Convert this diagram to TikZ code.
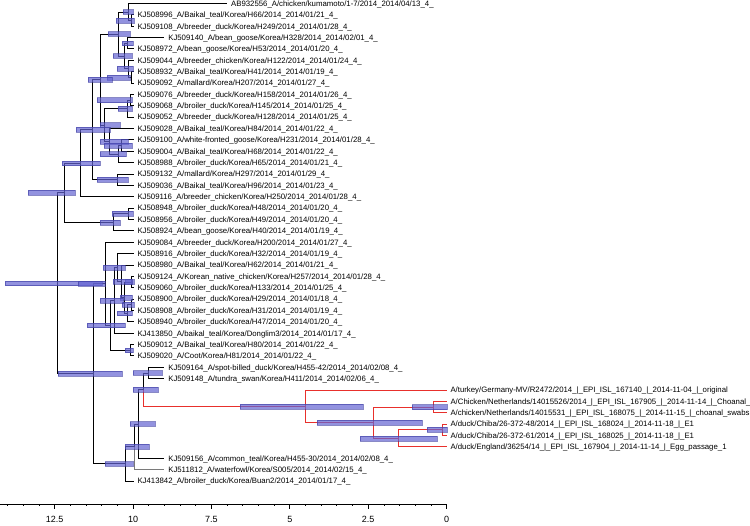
\documentclass[tikz,border=0pt]{standalone}
\usepackage{fontspec}
\setmainfont{Liberation Sans}
\usetikzlibrary{calc}
\definecolor{cbar}{HTML}{6464D2}
\definecolor{cbarline}{HTML}{3A3AA0}
\definecolor{cred}{HTML}{E8302C}
\definecolor{cgrey}{HTML}{7A7A7A}
\tikzset{
  every picture/.style={font=\fontsize{7.8}{9}\selectfont, line width=1pt},
  leaf/.style={anchor=base west, inner sep=0pt, xshift=3.4pt, yshift=-2.8pt},
  branch/.style={draw=black, line width=1pt},
  redbranch/.style={draw=cred, line width=1pt},
  greybranch/.style={draw=cgrey, line width=1pt},
  hpd/.style={fill=cbar, fill opacity=0.7, draw=cbarline, draw opacity=0.6, line width=0.5pt},
  axis/.style={draw=black, line width=0.8pt},
  axislabel/.style={font=\fontsize{9}{10}\selectfont, anchor=base, inner sep=0pt},
}
% tip: name, x of tip, row, label
\newcommand{\leaf}[4]{%
  \coordinate (#1) at (#2,{-(3.5+(#3-1)*11.37)});
  \node[leaf] (#1txt) at (#1) {\detokenize{#4}};}
% inner node: [style] name, x, upper child, lower child
\newcommand{\clade}[5][branch]{%
  \path let \p1=(#4), \p2=(#5) in coordinate (#2) at (#3pt,{(\y1+\y2)/2});
  \draw[#1] (#2) |- (#4) (#2) |- (#5);}
% node height bar: node, left x, right x
\newcommand{\hpdbar}[3]{%
  \path[hpd] let \p1=(#1) in (#2pt,\y1-2.4pt) rectangle (#3pt,\y1+2.4pt);}

\begin{document}
\begin{tikzpicture}[x=1pt, y=1pt]
  \clip (0,0) rectangle (750,-526);
  % tips
  \leaf{t1}{227.2}{1}{AB932556_A/chicken/kumamoto/1-7/2014_2014/04/13_4_}
  \leaf{t2}{133.6}{2}{KJ508996_A/Baikal_teal/Korea/H66/2014_2014/01/21_4_}
  \leaf{t3}{133.6}{3}{KJ509108_A/breeder_duck/Korea/H249/2014_2014/01/28_4_}
  \leaf{t4}{164.4}{4}{KJ509140_A/bean_goose/Korea/H328/2014_2014/02/01_4_}
  \leaf{t5}{133.6}{5}{KJ508972_A/bean_goose/Korea/H53/2014_2014/01/20_4_}
  \leaf{t6}{133.6}{6}{KJ509044_A/breeder_chicken/Korea/H122/2014_2014/01/24_4_}
  \leaf{t7}{133.6}{7}{KJ508932_A/Baikal_teal/Korea/H41/2014_2014/01/19_4_}
  \leaf{t8}{133.6}{8}{KJ509092_A/mallard/Korea/H207/2014_2014/01/27_4_}
  \leaf{t9}{133.6}{9}{KJ509076_A/breeder_duck/Korea/H158/2014_2014/01/26_4_}
  \leaf{t10}{133.6}{10}{KJ509068_A/broiler_duck/Korea/H145/2014_2014/01/25_4_}
  \leaf{t11}{133.6}{11}{KJ509052_A/breeder_duck/Korea/H128/2014_2014/01/25_4_}
  \leaf{t12}{133.6}{12}{KJ509028_A/Baikal_teal/Korea/H84/2014_2014/01/22_4_}
  \leaf{t13}{133.6}{13}{KJ509100_A/white-fronted_goose/Korea/H231/2014_2014/01/28_4_}
  \leaf{t14}{133.6}{14}{KJ509004_A/Baikal_teal/Korea/H68/2014_2014/01/22_4_}
  \leaf{t15}{133.6}{15}{KJ508988_A/broiler_duck/Korea/H65/2014_2014/01/21_4_}
  \leaf{t16}{133.6}{16}{KJ509132_A/mallard/Korea/H297/2014_2014/01/29_4_}
  \leaf{t17}{133.6}{17}{KJ509036_A/Baikal_teal/Korea/H96/2014_2014/01/23_4_}
  \leaf{t18}{133.6}{18}{KJ509116_A/breeder_chicken/Korea/H250/2014_2014/01/28_4_}
  \leaf{t19}{133.6}{19}{KJ508948_A/broiler_duck/Korea/H48/2014_2014/01/20_4_}
  \leaf{t20}{133.6}{20}{KJ508956_A/broiler_duck/Korea/H49/2014_2014/01/20_4_}
  \leaf{t21}{133.6}{21}{KJ508924_A/bean_goose/Korea/H40/2014_2014/01/19_4_}
  \leaf{t22}{133.6}{22}{KJ509084_A/breeder_duck/Korea/H200/2014_2014/01/27_4_}
  \leaf{t23}{133.6}{23}{KJ508916_A/broiler_duck/Korea/H32/2014_2014/01/19_4_}
  \leaf{t24}{133.6}{24}{KJ508980_A/Baikal_teal/Korea/H62/2014_2014/01/21_4_}
  \leaf{t25}{133.6}{25}{KJ509124_A/Korean_native_chicken/Korea/H257/2014_2014/01/28_4_}
  \leaf{t26}{133.6}{26}{KJ509060_A/broiler_duck/Korea/H133/2014_2014/01/25_4_}
  \leaf{t27}{133.6}{27}{KJ508900_A/broiler_duck/Korea/H29/2014_2014/01/18_4_}
  \leaf{t28}{133.6}{28}{KJ508908_A/broiler_duck/Korea/H31/2014_2014/01/19_4_}
  \leaf{t29}{133.6}{29}{KJ508940_A/broiler_duck/Korea/H47/2014_2014/01/20_4_}
  \leaf{t30}{133.6}{30}{KJ413850_A/baikal_teal/Korea/Donglim3/2014_2014/01/17_4_}
  \leaf{t31}{133.6}{31}{KJ509012_A/Baikal_teal/Korea/H80/2014_2014/01/22_4_}
  \leaf{t32}{133.6}{32}{KJ509020_A/Coot/Korea/H81/2014_2014/01/22_4_}
  \leaf{t33}{164.4}{33}{KJ509164_A/spot-billed_duck/Korea/H455-42/2014_2014/02/08_4_}
  \leaf{t34}{164.4}{34}{KJ509148_A/tundra_swan/Korea/H411/2014_2014/02/06_4_}
  \leaf{t35}{446.6}{35}{A/turkey/Germany-MV/R2472/2014_|_EPI_ISL_167140_|_2014-11-04_|_original}
  \leaf{t36}{446.6}{36}{A/Chicken/Netherlands/14015526/2014_|_EPI_ISL_167905_|_2014-11-14_|_Choanal_S}
  \leaf{t37}{446.6}{37}{A/chicken/Netherlands/14015531_|_EPI_ISL_168075_|_2014-11-15_|_choanal_swabs}
  \leaf{t38}{446.6}{38}{A/duck/Chiba/26-372-48/2014_|_EPI_ISL_168024_|_2014-11-18_|_E1}
  \leaf{t39}{446.6}{39}{A/duck/Chiba/26-372-61/2014_|_EPI_ISL_168025_|_2014-11-18_|_E1}
  \leaf{t40}{446.6}{40}{A/duck/England/36254/14_|_EPI_ISL_167904_|_2014-11-14_|_Egg_passage_1}
  \leaf{t41}{164.4}{41}{KJ509156_A/common_teal/Korea/H455-30/2014_2014/02/08_4_}
  \leaf{t42}{164.4}{42}{KJ511812_A/waterfowl/Korea/S005/2014_2014/02/15_4_}
  \leaf{t43}{133.6}{43}{KJ413842_A/broiler_duck/Korea/Buan2/2014_2014/01/17_4_}
  % upper clade
  \clade{n23}{131}{t2}{t3}
  \clade{n123}{128}{t1}{n23}
  \clade{n45}{127}{t4}{t5}
  \clade{n78}{131}{t7}{t8}
  \clade{n678}{128}{t6}{n78}
  \clade{n48}{124}{n45}{n678}
  \clade{n18}{118}{n123}{n48}
  \clade{n910}{130}{t9}{t10}
  \clade{n911}{127}{n910}{t11}
  \clade{n1314}{121}{t13}{t14}
  \clade{n1315}{118}{n1314}{t15}
  \clade{n1215}{109}{t12}{n1315}
  \clade{n915}{104}{n911}{n1215}
  \clade{n115}{100}{n18}{n915}
  \clade{n1617}{117}{t16}{t17}
  \clade{n117}{92}{n115}{n1617}
  \clade{n118}{80}{n117}{t18}
  \clade{n1920}{128}{t19}{t20}
  \clade{n1921}{113}{n1920}{t21}
  \clade{top}{64}{n118}{n1921}
  % lower clade
  \clade{n2526}{131}{t25}{t26}
  \clade{n2728}{131}{t27}{t28}
  \clade{n2729}{127}{n2728}{t29}
  \clade{n2529}{124}{n2526}{n2729}
  \clade{n2429}{121}{t24}{n2529}
  \clade{n2329}{117}{t23}{n2429}
  \clade{n2330}{114}{n2329}{t30}
  \clade{n3132}{130}{t31}{t32}
  \clade{n2332}{110}{n2330}{n3132}
  \clade{n2232}{105}{t22}{n2332}
  \clade{n3334}{148}{t33}{t34}
  \clade[redbranch]{eu3839}{442}{t38}{t39}
  \clade[redbranch]{eu3840}{398}{eu3839}{t40}
  \clade[redbranch]{eu3637}{433}{t36}{t37}
  \clade[redbranch]{eu3640}{373}{eu3637}{eu3840}
  \clade[redbranch]{eu}{305}{t35}{eu3640}
  \clade{n3340}{143}{n3334}{eu}
  \draw[redbranch] (n3340) |- (eu);
  \clade{n3341}{138}{n3340}{t41}
  \clade{n3342}{134}{n3341}{t42}
  \draw[greybranch] (n3342) |- (t42);
  \clade{n3343}{125}{n3342}{t43}
  \clade{bottom}{93}{n2232}{n3343}
  \clade{root}{57}{top}{bottom}
  % node height bars
  \hpdbar{root}{5}{102}
  \hpdbar{top}{28}{75}
  \hpdbar{bottom}{58}{122}
  \hpdbar{n2232}{78}{105}
  \hpdbar{n123}{123}{133}
  \hpdbar{n23}{116}{134}
  \hpdbar{n45}{122}{133}
  \hpdbar{n48}{113}{132}
  \hpdbar{n678}{117}{133}
  \hpdbar{n78}{107}{130}
  \hpdbar{n18}{108}{130}
  \hpdbar{n910}{97}{132}
  \hpdbar{n911}{118}{132}
  \hpdbar{n915}{100}{120}
  \hpdbar{n1215}{100}{128}
  \hpdbar{n1314}{104}{132}
  \hpdbar{n1315}{100}{126}
  \hpdbar{n115}{88}{112}
  \hpdbar{n117}{76}{110}
  \hpdbar{n118}{62}{100}
  \hpdbar{n1617}{97}{128}
  \hpdbar{n1920}{112}{133}
  \hpdbar{n1921}{100}{120}
  \hpdbar{n2526}{125}{134}
  \hpdbar{n2728}{122}{134}
  \hpdbar{n2729}{117}{132}
  \hpdbar{n2529}{120}{132}
  \hpdbar{n2429}{113}{132}
  \hpdbar{n2329}{103}{125}
  \hpdbar{n2330}{100}{123}
  \hpdbar{n3132}{125}{133}
  \hpdbar{n2332}{87}{125}
  \hpdbar{n3334}{133}{162}
  \hpdbar{n3340}{133}{158}
  \hpdbar{n3341}{130}{155}
  \hpdbar{n3342}{125}{149}
  \hpdbar{n3343}{105}{133}
  \hpdbar{eu}{240}{363}
  \hpdbar{eu3640}{317}{422}
  \hpdbar{eu3637}{412}{447}
  \hpdbar{eu3840}{360}{437}
  \hpdbar{eu3839}{427}{447}
  % time axis
  \draw[axis] (0,-504) -- (446.6,-504);
  \foreach \k in {0,...,28}
    \draw[axis] ({446.6-15.675*\k},-504) -- ++(0,-2.2);
  \foreach \tv [count=\n] in {0,2.5,5,7.5,10,12.5} {
    \draw[axis] ({446.6-31.35*\tv},-504) -- ++(0,-4.5);
    \node[axislabel] (scale\n) at ({446.6-31.35*\tv},-522.5) {\tv};
  }
\end{tikzpicture}
\end{document}
